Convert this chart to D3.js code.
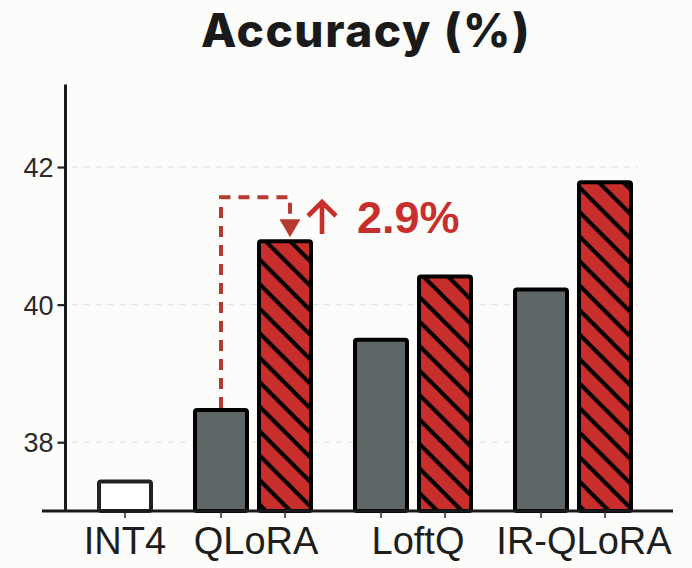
<!DOCTYPE html>
<html>
<head>
<meta charset="utf-8">
<script src="https://cdn.jsdelivr.net/npm/d3@7"></script>
<style>
  html, body { margin: 0; padding: 0; background: #fcfcfb; }
  svg { display: block; }
</style>
</head>
<body>
<div id="chart"></div>
<script>
// values
const methods = ["INT4", "QLoRA", "LoftQ", "IR-QLoRA"];
const baseValues = [37.43, 38.47, 39.49, 40.22];      // grey bars (INT4 is the empty one)
const tunedValues = [null, 40.92, 40.41, 41.78];      // red hatched bars
const yTicks = [38, 40, 42];
const gainLabel = "2.9%";

const width = 692, height = 568;
const red = "#c82f2c", grey = "#5e6668", dashRed = "#b73a30";

const svg = d3.select("#chart").append("svg")
  .attr("width", width)
  .attr("height", height);

// hatch for the red bars
const hp = 24.5;
const defs = svg.append("defs");
const pat = defs.append("pattern")
  .attr("id", "hatch")
  .attr("patternUnits", "userSpaceOnUse")
  .attr("width", hp)
  .attr("height", hp);
pat.append("rect").attr("width", hp).attr("height", hp).attr("fill", red);
pat.append("path")
  .attr("d", `M-3,-3 L${hp + 3},${hp + 3} M${-hp / 2},${hp / 2} L${hp / 2},${hp * 1.5} M${hp / 2},${-hp / 2} L${hp * 1.5},${hp / 2}`)
  .attr("stroke", "#000")
  .attr("stroke-width", 4);

// slot positions: INT4 alone, then grey / red pairs
const slot = d3.scaleLinear().domain([0, 15]).range([125, 605]);
const groupCenter = i => i === 0 ? 0 : 5 * i - 1;
const y = d3.scaleLinear().domain([37, 43.2]).range([511, 84.5]);
const barW = 52;

const bars = [];
methods.forEach((m, i) => {
  if (i === 0) {
    bars.push({ method: m, kind: "int4", value: baseValues[i], pos: 0 });
  } else {
    bars.push({ method: m, kind: "base", value: baseValues[i], pos: groupCenter(i) - 1 });
    bars.push({ method: m, kind: "tuned", value: tunedValues[i], pos: groupCenter(i) + 1 });
  }
});

// grid
svg.append("g")
  .selectAll("line")
  .data(yTicks)
  .enter()
  .append("line")
  .attr("x1", 72)
  .attr("x2", 638)
  .attr("y1", d => y(d))
  .attr("y2", d => y(d))
  .attr("stroke", "#e3e3e1")
  .attr("stroke-width", 1.2)
  .attr("stroke-dasharray", "6,6");

// bars
svg.append("g")
  .selectAll("rect")
  .data(bars)
  .enter()
  .append("rect")
  .attr("x", d => slot(d.pos) - barW / 2)
  .attr("width", barW)
  .attr("y", d => y(d.value))
  .attr("height", d => y(37) - y(d.value))
  .attr("rx", 2)
  .attr("fill", d => d.kind === "int4" ? "#ffffff" : d.kind === "base" ? grey : "url(#hatch)")
  .attr("stroke", d => d.kind === "int4" ? "#222" : "#000")
  .attr("stroke-width", 4);

// y axis
const yAxis = d3.axisLeft(y)
  .tickValues(yTicks)
  .tickFormat(d3.format("d"))
  .tickSize(8)
  .tickSizeOuter(0)
  .tickPadding(4);
const yG = svg.append("g")
  .attr("transform", "translate(65.5,0)")
  .call(yAxis);
yG.select(".domain").remove();
yG.selectAll(".tick line").attr("stroke", "#222").attr("stroke-width", 2.2);
yG.selectAll(".tick text")
  .attr("fill", "#2a2a2a")
  .style("font-family", "'Liberation Sans', Arial, sans-serif")
  .style("font-size", "27px")
  .attr("dy", "0.36em");

svg.append("line")
  .attr("x1", 65.5).attr("x2", 65.5)
  .attr("y1", y(43.2)).attr("y2", y(37))
  .attr("stroke", "#1a1a1a")
  .attr("stroke-width", 3);

// x ticks at each bar, labels under groups
svg.append("g")
  .selectAll("line")
  .data(bars)
  .enter()
  .append("line")
  .attr("x1", d => slot(d.pos))
  .attr("x2", d => slot(d.pos))
  .attr("y1", y(37))
  .attr("y2", y(37) + 7)
  .attr("stroke", "#333")
  .attr("stroke-width", 1.6);

svg.append("line")
  .attr("x1", 42).attr("x2", 673)
  .attr("y1", y(37)).attr("y2", y(37))
  .attr("stroke", "#1a1a1a")
  .attr("stroke-width", 3);

svg.append("g")
  .selectAll("text")
  .data(methods)
  .enter()
  .append("text")
  .attr("x", (d, i) => slot(groupCenter(i)) + [0, 3, 5, 11][i])
  .attr("y", 554)
  .attr("text-anchor", "middle")
  .attr("fill", "#1e1e1e")
  .style("font-family", "'Liberation Sans', Arial, sans-serif")
  .style("font-size", "38px")
  .text(d => d);

// title
svg.append("text")
  .attr("x", 366)
  .attr("y", 47)
  .attr("text-anchor", "middle")
  .attr("fill", "#1a1a1a")
  .style("font-family", "Inter, 'Liberation Sans', sans-serif")
  .style("font-weight", 800)
  .style("font-size", "46px")
  .style("letter-spacing", "1.6px")
  .text("Accuracy (%)");

// gain annotation for QLoRA
const gx0 = slot(groupCenter(1) - 1), gx1 = slot(groupCenter(1) + 1) + 5;
const topY = y(41.56);
svg.append("path")
  .attr("d", `M${gx0},${y(baseValues[1]) - 2} V${topY} H${gx1} V${y(41.2)}`)
  .attr("fill", "none")
  .attr("stroke", dashRed)
  .attr("stroke-width", 4)
  .attr("stroke-dasharray", "11,8");

const tipY = y(tunedValues[1]) - 4;
svg.append("path")
  .attr("d", `M${gx1 - 10.5},${tipY - 18} L${gx1 + 10.5},${tipY - 18} L${gx1},${tipY} Z`)
  .attr("fill", dashRed);

// up arrow next to the gain figure
const ax = gx1 + 32, ay = 234;
svg.append("path")
  .attr("d", `M${ax},${ay} V${ay - 33} M${ax - 14},${ay - 18} L${ax},${ay - 32} L${ax + 14},${ay - 18}`)
  .attr("fill", "none")
  .attr("stroke", red)
  .attr("stroke-width", 4.6)
  .attr("stroke-linejoin", "miter");

svg.append("text")
  .attr("x", gx1 + 67)
  .attr("y", 232.5)
  .attr("fill", red)
  .style("font-family", "'Liberation Sans', sans-serif")
  .style("font-weight", "bold")
  .style("font-size", "45px")
  .text(gainLabel);
</script>
</body>
</html>
